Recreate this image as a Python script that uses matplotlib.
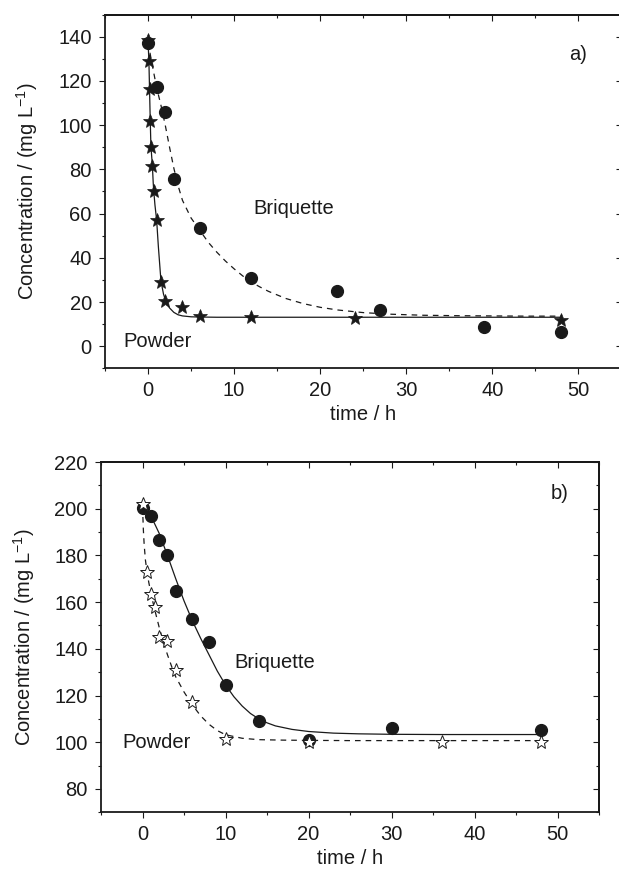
import matplotlib

matplotlib.use("Agg")
import matplotlib.pyplot as plt
from matplotlib.ticker import MultipleLocator, NullFormatter

plt.rcParams["font.family"] = ["Liberation Sans", "DejaVu Sans"]
plt.rcParams["mathtext.fontset"] = "custom"
plt.rcParams["mathtext.rm"] = "Liberation Sans"
plt.rcParams["mathtext.it"] = "Liberation Sans:italic"

INK = "#1a1a1a"

# panel a) measured points
brq_a_t = [0, 1, 2, 3, 6, 12, 22, 27, 39, 48]
brq_a_c = [137.4, 117.3, 105.8, 75.6, 53.5, 31.0, 24.8, 16.2, 8.6, 6.4]
pow_a_t = [0, 0.1, 0.17, 0.25, 0.33, 0.5, 0.67, 1.0, 1.5, 2, 4, 6, 12, 24, 48]
pow_a_c = [138.5, 129, 116.5, 102, 90.3, 81.5, 70, 57, 29.2, 20.5, 17.8, 13.6, 13.1, 12.7, 11.7]

# panel a) fitted curves (read off the figure)
fit_pow_a_t = [0, 0.1, 0.17, 0.25, 0.33, 0.42, 0.5, 0.6, 0.67, 0.8, 1.0, 1.2, 1.5, 1.8,
               2.1, 2.5, 3.0, 3.5, 4.0, 5.0, 6.0, 8.0, 12, 24, 48]
fit_pow_a_c = [138, 129, 117, 103, 91, 86, 82, 74, 70, 64, 57, 45, 29.5, 23.5,
               20, 17.3, 15.3, 14.2, 13.7, 13.3, 13.2, 13.1, 13.1, 13.1, 13.1]
fit_brq_a_t = [0, 0.5, 1, 1.5, 2, 2.5, 3, 3.5, 4, 5, 6, 7, 8, 9, 10, 11, 12, 13, 14,
               16, 18, 20, 22, 25, 28, 32, 36, 40, 44, 48]
fit_brq_a_c = [137.5, 127, 117, 109, 100, 90, 80.5, 72.5, 66, 58, 52.5, 47, 42.5, 38.5,
               35, 31.8, 29, 26.8, 24.8, 21.6, 19.3, 17.6, 16.4, 15.2, 14.5, 14, 13.8,
               13.7, 13.6, 13.6]

# panel b) measured points
brq_b_t = [0, 1, 2, 3, 4, 6, 8, 10, 14, 20, 30, 48]
brq_b_c = [200.3, 196.7, 186.6, 180, 164.6, 152.9, 143.1, 124.3, 109, 101, 106, 105.3]
pow_b_t = [0, 0.5, 1, 1.5, 2, 3, 4, 6, 10, 20, 36, 48]
pow_b_c = [201.9, 172.9, 163.3, 157.9, 145, 143.3, 131, 117.1, 101.4, 100, 99.9, 100.1]

# panel b) fitted curves (read off the figure)
fit_brq_b_t = [0, 1, 2, 3, 4, 5, 6, 7, 8, 9, 10, 11, 12, 13, 14, 15, 16, 18, 20, 23,
               26, 30, 36, 48]
fit_brq_b_c = [200.5, 197, 189.5, 180, 170, 160.5, 152, 144.5, 137.5, 130.5, 124.5,
               119.5, 115.5, 112.3, 110, 108.3, 107, 105.5, 104.6, 103.9, 103.6, 103.4,
               103.3, 103.3]
fit_pow_b_t = [0, 0.1, 0.2, 0.35, 0.5, 0.75, 1, 1.25, 1.5, 2, 2.5, 3, 3.5, 4, 5, 6, 7,
               8, 9, 10, 12, 14, 17, 20, 25, 30, 40, 48]
fit_pow_b_c = [201, 191, 184.5, 178, 174, 168.5, 164, 160, 156.3, 149.3, 143, 137.5,
               132.5, 128, 121.5, 116, 111.3, 107.7, 105, 103.2, 101.7, 101.1, 100.9,
               100.8, 100.7, 100.7, 100.7, 100.7]

FS = 14.5
DASH = (4.5, 4)


def style_axes(ax, ylim, ymajor):
    ax.set_xlim(-5, 55)
    ax.set_ylim(*ylim)
    ax.xaxis.set_major_locator(MultipleLocator(10))
    ax.xaxis.set_minor_locator(MultipleLocator(5))
    ax.yaxis.set_major_locator(MultipleLocator(ymajor))
    ax.yaxis.set_minor_locator(MultipleLocator(ymajor / 2))
    ax.tick_params(which="both", direction="out", width=0.8, color=INK,
                   labelcolor=INK, labelsize=FS, pad=5)
    ax.tick_params(which="major", length=4.5)
    ax.tick_params(which="minor", length=2.5)
    for spine in ax.spines.values():
        spine.set_linewidth(1.3)
        spine.set_color(INK)

    # mirrored ticks on top and right point inwards
    top = ax.secondary_xaxis("top")
    top.xaxis.set_major_locator(MultipleLocator(10))
    top.xaxis.set_minor_locator(MultipleLocator(5))
    top.xaxis.set_major_formatter(NullFormatter())
    top.tick_params(which="both", direction="in", width=0.8, color=INK)
    top.tick_params(which="major", length=4.5)
    top.tick_params(which="minor", length=2.5)
    top.spines["top"].set_linewidth(1.3)

    right = ax.secondary_yaxis("right")
    right.yaxis.set_major_locator(MultipleLocator(ymajor))
    right.yaxis.set_minor_locator(MultipleLocator(ymajor / 2))
    right.yaxis.set_major_formatter(NullFormatter())
    right.tick_params(which="both", direction="in", width=0.8, color=INK)
    right.tick_params(which="major", length=4.5)
    right.tick_params(which="minor", length=2.5)
    right.spines["right"].set_linewidth(1.3)

    ax.set_xlabel("time / h", fontsize=FS, color=INK, labelpad=3)
    ax.set_ylabel(r"Concentration / (mg L$^{-1}$)", fontsize=FS, color=INK)


fig = plt.figure(figsize=(6.19, 8.72), dpi=100)
ax1 = fig.add_axes([105 / 619, 1 - 368.3 / 872, (621.5 - 105) / 619, (368.3 - 14.7) / 872])
ax2 = fig.add_axes([101 / 619, 1 - 812.3 / 872, (599.3 - 101) / 619, (812.3 - 462) / 872])

# panel a
ax1.plot(fit_pow_a_t, fit_pow_a_c, color=INK, lw=0.9, zorder=2)
ax1.plot(fit_brq_a_t, fit_brq_a_c, color=INK, lw=0.9, dashes=DASH, zorder=2)
ax1.plot(brq_a_t, brq_a_c, "o", color=INK, ms=8.5, zorder=3)
ax1.plot(pow_a_t, pow_a_c, "*", color=INK, ms=10.5, mew=0.5, zorder=4)
style_axes(ax1, (-10, 150), 20)
ax1.yaxis.set_label_coords(-0.126, 0.5)
ax1.text(50, 132, "a)", fontsize=FS, color=INK, ha="center", va="center")
ax1.text(12.2, 62.5, "Briquette", fontsize=FS, color=INK, ha="left", va="center")
ax1.text(-2.9, 2, "Powder", fontsize=FS, color=INK, ha="left", va="center")

# panel b
ax2.plot(fit_brq_b_t, fit_brq_b_c, color=INK, lw=0.9, zorder=2)
ax2.plot(fit_pow_b_t, fit_pow_b_c, color=INK, lw=0.9, dashes=DASH, zorder=2)
ax2.plot(brq_b_t, brq_b_c, "o", color=INK, ms=8.5, zorder=3)
ax2.plot(pow_b_t, pow_b_c, "*", mfc="white", mec=INK, mew=0.7, ms=10.5, zorder=4)
style_axes(ax2, (70, 220), 20)
ax2.yaxis.set_label_coords(-0.129, 0.5)
ax2.text(50.2, 206.4, "b)", fontsize=FS, color=INK, ha="center", va="center")
ax2.text(11.0, 134.3, "Briquette", fontsize=FS, color=INK, ha="left", va="center")
ax2.text(-2.4, 100, "Powder", fontsize=FS, color=INK, ha="left", va="center")

fig.savefig("out.png", dpi=100)
